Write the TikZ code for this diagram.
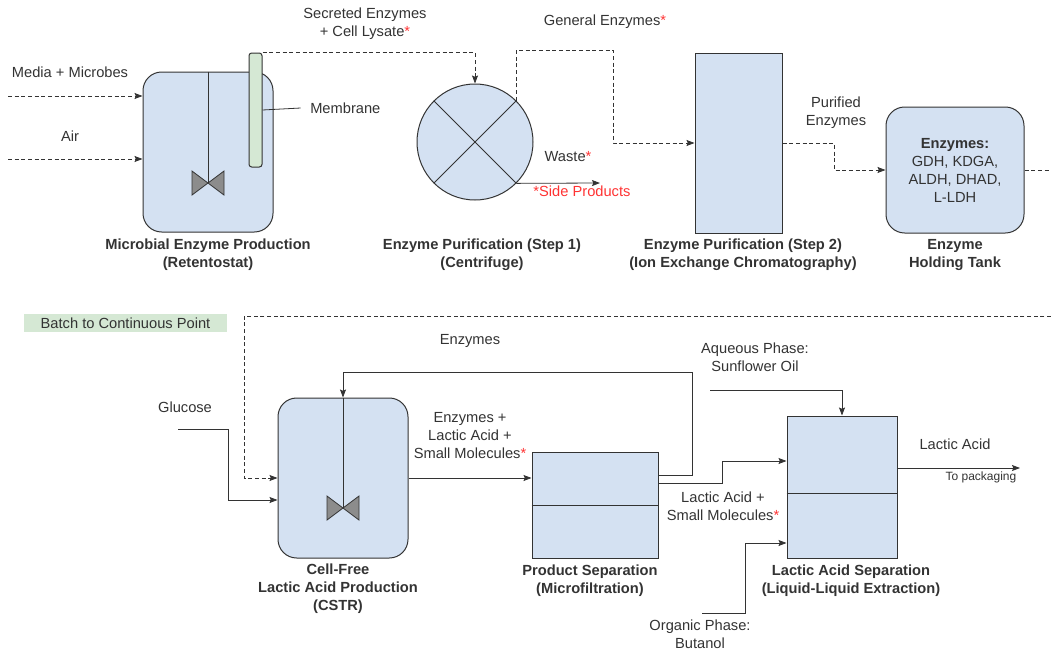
\documentclass[tikz,border=0pt]{standalone}
\usepackage{fontspec}
\setmainfont{Liberation Sans}
\usetikzlibrary{positioning, arrows.meta}

\definecolor{vessel}{HTML}{D4E1F2}
\definecolor{memb}{HTML}{D5E8D4}
\definecolor{edge}{HTML}{333333}
\definecolor{blade}{HTML}{8C8C8C}
\definecolor{star}{HTML}{FF3333}

\tikzset{
  unit/.style={draw=edge, fill=vessel, line width=0.75pt, inner sep=0pt},
  tank/.style={unit, rounded corners=14pt},
  stream/.style={draw=edge, line width=0.6pt},
  batch/.style={stream, dash pattern=on 3pt off 2pt},
  txt/.style={text=edge, align=center, inner sep=0pt, font=\fontsize{11}{13.5}\selectfont},
  title/.style={txt, font=\fontsize{11}{13.5}\selectfont\bfseries},
}
\newcommand{\rst}{\textcolor{star}{*}}
\newcommand{\impeller}[1]{%
  \draw[draw=edge, fill=blade, line width=0.6pt, shift={(#1)}]
    (-16,-12) -- (0,0) -- (-16,12) -- cycle (16,-12) -- (0,0) -- (16,12) -- cycle;}

\begin{document}
\begin{tikzpicture}[x=0.75pt, y=-0.75pt, >={Stealth[length=6pt, width=4.5pt, inset=1pt]}]
    \useasboundingbox (0,0) rectangle (1051,650);
    % enzyme train
    \node[tank, minimum width=97.5pt, minimum height=120pt] (retent) at (208,152) {};
    \node[draw=edge, fill=memb, line width=0.75pt, rounded corners=2pt, inner sep=0pt,
        minimum width=9.75pt, minimum height=85.5pt] (membrane) at (255.5,110) {};
    \coordinate (retimp) at (208,183);
    \draw[stream] (retent.north) -- (retimp);
    \impeller{retimp}
    \node[unit, circle, minimum size=87pt] (centri) at (475,142) {};
    \draw[stream] (centri.45) -- (centri.225) (centri.135) -- (centri.315);
    \node[unit, minimum width=65.25pt, minimum height=135pt] (ionex) at (738.5,143) {};
    \node[tank, txt, minimum width=103.5pt, minimum height=94.5pt] (hold) at (955,170)
        {\textbf{Enzymes:}\\GDH, KDGA,\\ALDH, DHAD,\\L-LDH};

    \node[title] (retentlbl) at (208,255) {Microbial Enzyme Production\\(Retentostat)};
    \node[title] (centrilbl) at (482,255) {Enzyme Purification (Step 1)\\(Centrifuge)};
    \node[title] (ionexlbl) at (743,255) {Enzyme Purification (Step 2)\\(Ion Exchange Chromatography)};
    \node[title] (holdlbl) at (955,255) {Enzyme\\Holding Tank};

    \coordinate (mediain) at (8,96);
    \coordinate (airin) at (8,159);
    \draw[batch,->] (mediain) -- (mediain -| retent.west);
    \draw[batch,->] (airin) -- (airin -| retent.west);
    \node[txt] (medialbl) at (70,72) {Media + Microbes};
    \node[txt] (airlbl) at (70,136) {Air};
    \node[txt, anchor=west] (memblbl) at (310,108) {Membrane};
    \draw[stream] (membrane.east) -- ([xshift=-7pt]memblbl.west);

    \draw[batch,->] (membrane.north east) -| (centri.north);
    \node[txt] (lysatelbl) at (365,24) {Secreted Enzymes\\+ Cell Lysate\rst};

    \coordinate (genturn) at (613,50);
    \draw[batch,->] (centri.45) |- (genturn) |- (ionex.west);
    \node[txt] (genlbl) at (605,22) {General Enzymes\rst};

    \coordinate (wasteout) at (600,183);
    \draw[stream,->] (centri.315) -- (wasteout);
    \node[txt] (wastelbl) at (568,157) {Waste\rst};
    \node[txt, text=star] (sidelbl) at (582,191) {*Side Products};

    \coordinate (purturn) at (834,143);
    \draw[batch,->] (ionex.east) -- (purturn) |- (hold.west);
    \node[txt] (purlbl) at (836,113) {Purified\\Enzymes};

    \coordinate (holdout) at (1051,170);
    \draw[batch] (hold.east) -- (holdout);

    % continuous section
    \node[txt, fill=memb, minimum width=152.25pt, minimum height=13.5pt] (switchpt) at (125.5,323)
        {Batch to Continuous Point};
    \node[tank, minimum width=97.5pt, minimum height=120pt] (cstr) at (343,478) {};
    \node[unit, minimum width=94.5pt, minimum height=79.5pt] (mf) at (595,505) {};
    \draw[stream] (mf.west) -- (mf.east);
    \node[unit, minimum width=82.5pt, minimum height=106.5pt] (lle) at (842,487) {};
    \draw[stream] ([yshift=-5pt]lle.west) -- ([yshift=-5pt]lle.east);

    \coordinate (cstrimp) at (343,508);
    \draw[stream] (cstr.north) -- (cstrimp);
    \impeller{cstrimp}

    \coordinate (feedin) at (1051,316);
    \coordinate (feedturn) at (244,316);
    \draw[batch,->] (feedin) -- (feedturn) |- (cstr.west);

    \coordinate (glucin) at (178,429);
    \coordinate (glucturn) at (228,429);
    \draw[stream,->] (glucin) -- (glucturn) |- ([yshift=-16.5pt]cstr.west);
    \node[txt] (gluclbl) at (185,407) {Glucose};

    \draw[stream,->] (cstr.east) -- (cstr.east -| mf.west);
    \node[txt] (mixlbl) at (470,436) {Enzymes +\\Lactic Acid +\\Small Molecules\rst};

    \coordinate (recturn) at (692,372);
    \draw[stream,->] ([yshift=22.5pt]mf.east) -| (recturn) -| (cstr.north);
    \node[txt] (reclbl) at (470,341) {Enzymes};

    \coordinate (latturn) at (722,461);
    \draw[stream,->] ([yshift=16.5pt]mf.east) -| (latturn) |- ([yshift=19.5pt]lle.west);
    \node[txt] (latlbl) at (723,506) {Lactic Acid +\\Small Molecules\rst};

    \coordinate (aqin) at (710,390);
    \draw[stream,->] (aqin) -| (lle.north);
    \node[txt] (aqlbl) at (755,357) {Aqueous Phase:\\Sunflower Oil};

    \coordinate (orgin) at (702,613);
    \coordinate (orgturn) at (745,613);
    \draw[stream,->] (orgin) -- (orgturn) |- ([yshift=-42pt]lle.west);
    \node[txt] (orglbl) at (700,634) {Organic Phase:\\Butanol};

    \coordinate (prodout) at (1020,468);
    \draw[stream,->] (lle.east |- prodout) -- (prodout);
    \node[txt] (prodlbl) at (955,444) {Lactic Acid};
    \node[txt, font=\fontsize{9}{11}\selectfont] (packlbl) at (981,477) {To packaging};

    \node[title] (cstrlbl) at (338,589) {Cell-Free\\Lactic Acid Production\\(CSTR)};
    \node[title] (mflbl) at (590,581) {Product Separation\\(Microfiltration)};
    \node[title] (llelbl) at (851,581) {Lactic Acid Separation\\(Liquid-Liquid Extraction)};
\end{tikzpicture}
\end{document}
